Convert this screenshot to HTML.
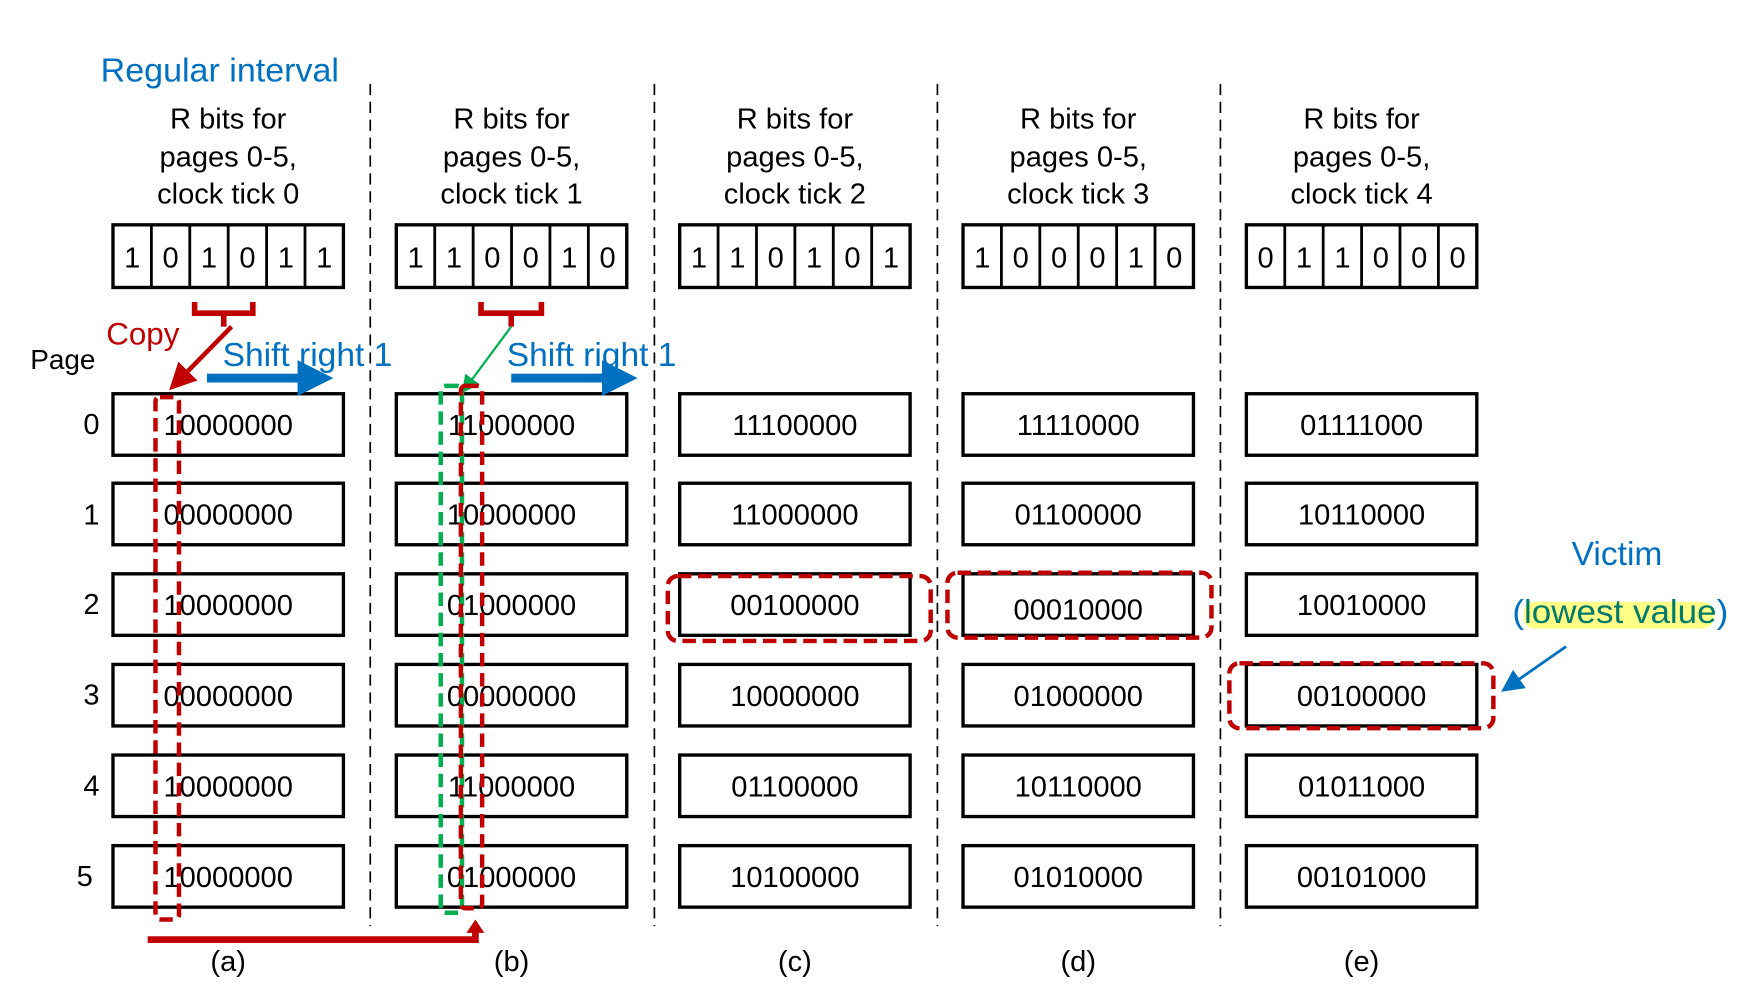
<!DOCTYPE html>
<html><head><meta charset="utf-8"><style>
html,body{margin:0;padding:0;background:#fff;}
svg{display:block;}
text{font-family:"Liberation Sans",Arial,sans-serif;}
</style></head><body>
<svg width="1754" height="1000" viewBox="0 0 1568 894" preserveAspectRatio="none" xmlns="http://www.w3.org/2000/svg">
<defs>
<marker id="ar" markerWidth="6" markerHeight="6" refX="5" refY="3" orient="auto" markerUnits="strokeWidth"><path d="M0,0 L6,3 L0,6 z" fill="#C00000"/></marker>
<marker id="ab" markerWidth="4" markerHeight="4" refX="3" refY="2" orient="auto" markerUnits="strokeWidth"><path d="M0,0 L4,2 L0,4 z" fill="#0070C0"/></marker>
<marker id="ag" markerWidth="8" markerHeight="8" refX="7" refY="4" orient="auto" markerUnits="strokeWidth"><path d="M0,0 L8,4 L0,8 z" fill="#00B050"/></marker>
<marker id="av" markerWidth="8" markerHeight="8" refX="7" refY="4" orient="auto" markerUnits="strokeWidth"><path d="M0,0 L8,4 L0,8 z" fill="#0070C0"/></marker>
</defs>
<rect width="1568" height="894" fill="#fff"/>
<text x="90" y="73" font-size="30" fill="#0070C0" textLength="213" lengthAdjust="spacingAndGlyphs">Regular interval</text>
<g stroke="#000" stroke-width="1.5" stroke-dasharray="10,6">
<line x1="331" y1="75" x2="331" y2="828"/><line x1="585" y1="75" x2="585" y2="828"/>
<line x1="838" y1="75" x2="838" y2="828"/><line x1="1091" y1="75" x2="1091" y2="828"/>
</g>
<g id="cols" font-size="26" text-anchor="middle" fill="#000"></g>
<text x="27" y="330" font-size="25">Page</text>
<g font-size="26" text-anchor="end">
<text x="89" y="388">0</text><text x="89" y="469">1</text><text x="89" y="549">2</text>
<text x="89" y="630">3</text><text x="89" y="711">4</text><text x="83" y="792">5</text>
</g>
<path d="M174,270 V280 H226 V270 M200,280 V292" fill="none" stroke="#C00000" stroke-width="5"/>
<path d="M430,270 V280 H484 V270 M457,280 V292" fill="none" stroke="#C00000" stroke-width="5"/>
<line x1="207" y1="292" x2="154" y2="346" stroke="#C00000" stroke-width="4" marker-end="url(#ar)"/>
<text x="95" y="308" font-size="28" fill="#C00000">Copy</text>
<text x="199" y="327" font-size="30" fill="#0070C0">Shift right 1</text>
<text x="453" y="327" font-size="30" fill="#0070C0">Shift right 1</text>
<line x1="185" y1="338" x2="290" y2="338" stroke="#0070C0" stroke-width="8" marker-end="url(#ab)"/>
<line x1="457" y1="338" x2="562" y2="338" stroke="#0070C0" stroke-width="8" marker-end="url(#ab)"/>
<line x1="457" y1="292" x2="414" y2="350" stroke="#00B050" stroke-width="2" marker-end="url(#ag)"/>
<g fill="none" stroke-width="4" stroke-dasharray="12,6">
<rect x="139" y="355" width="21" height="467" rx="4" stroke="#C00000"/>
<rect x="394" y="345" width="19" height="471" rx="4" stroke="#00B050"/>
<rect x="412" y="345" width="19" height="467" rx="4" stroke="#C00000"/>
<rect x="597" y="515" width="235" height="58" rx="9" stroke="#C00000"/>
<rect x="847" y="512" width="236" height="58" rx="9" stroke="#C00000"/>
<rect x="1099" y="593" width="236" height="58" rx="9" stroke="#C00000"/>
</g>
<path d="M132,840 H425 V832" fill="none" stroke="#C00000" stroke-width="6"/>
<path d="M417,834 L425,822 L433,834 z" fill="#C00000"/>
<text x="1405" y="505" font-size="30" fill="#0070C0">Victim</text>
<rect x="1362" y="538" width="170" height="24" rx="10" fill="#FFFF66" opacity="0.8"/>
<text x="1352" y="557" font-size="30" fill="#0070C0" textLength="193" lengthAdjust="spacingAndGlyphs">(<tspan fill="#007A6A">lowest value</tspan>)</text>
<line x1="1400" y1="578" x2="1344" y2="617" stroke="#0070C0" stroke-width="2.5" marker-end="url(#av)"/>
</svg>
<script>
var bits=["101011","110010","110101","100010","011000"];
var rows=[["10000000","00000000","10000000","00000000","10000000","10000000"],
["11000000","10000000","01000000","00000000","11000000","01000000"],
["11100000","11000000","00100000","10000000","01100000","10100000"],
["11110000","01100000","00010000","01000000","10110000","01010000"],
["01111000","10110000","10010000","00100000","01011000","00101000"]];
var labs=["(a)","(b)","(c)","(d)","(e)"];
var g=document.getElementById("cols"),s="";
var rowY=[352,432,513,594,675,756];
for(var c=0;c<5;c++){
 var cx=204+c*253.3, x0=cx-103;
 s+='<text x="'+cx+'" y="115">R bits for</text><text x="'+cx+'" y="149">pages 0-5,</text><text x="'+cx+'" y="182">clock tick '+c+'</text>';
 s+='<rect x="'+x0+'" y="201" width="206" height="56" fill="none" stroke="#000" stroke-width="3"/>';
 for(var i=0;i<6;i++){var xx=x0+i*34.33;
  if(i>0)s+='<line x1="'+xx+'" y1="201" x2="'+xx+'" y2="257" stroke="#000" stroke-width="2.5"/>';
  s+='<text x="'+(xx+17.2)+'" y="239">'+bits[c][i]+'</text>';}
 for(var r=0;r<6;r++){
  s+='<rect x="'+x0+'" y="'+rowY[r]+'" width="206" height="55" fill="none" stroke="#000" stroke-width="3"/>';
  s+='<text x="'+cx+'" y="'+(rowY[r]+37+(c==3&&r==2?4:0))+'">'+rows[c][r]+'</text>';}
 s+='<text x="'+cx+'" y="868">'+labs[c]+'</text>';
}
g.innerHTML=s;
</script>
</body></html>
